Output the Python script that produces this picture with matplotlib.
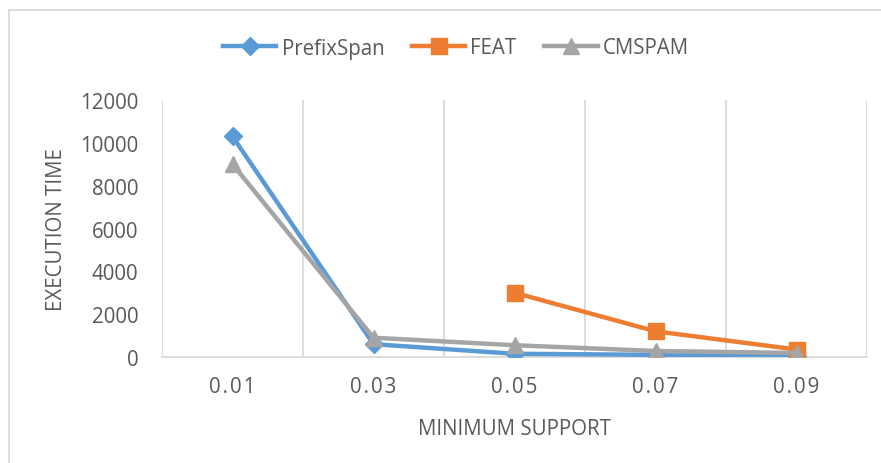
import matplotlib
matplotlib.use("Agg")
import matplotlib.pyplot as plt
import numpy as np

categories = ["0.01", "0.03", "0.05", "0.07", "0.09"]
prefixspan = [10300, 600, 150, 100, 50]
feat = [np.nan, np.nan, 3000, 1200, 350]
cmspam = [9000, 900, 550, 280, 190]
yticks = [0, 2000, 4000, 6000, 8000, 10000, 12000]

plt.rcParams['font.family'] = ['Open Sans', 'DejaVu Sans']
text_color = "#595959"
grid_color = "#D9D9D9"
fs = 14.8

W, H = 881, 464
fig = plt.figure(figsize=(W / 100, H / 100), dpi=100)
fig.patch.set_facecolor("white")
# chart area border (runs off the right and bottom edges)
fig.add_artist(plt.Rectangle((8.5 / W, -0.1), 1.2, (H - 10.5) / H + 0.1,
                             transform=fig.transFigure, fill=False,
                             edgecolor=grid_color, linewidth=1.3))

ax = fig.add_axes([162 / W, (H - 358) / H, 705 / W, 257 / H])
x = np.arange(len(categories))

lw = 3.2
ax.plot(x, prefixspan, color="#5B9BD5", lw=lw, marker="D", markersize=9.5, label="PrefixSpan", zorder=3)
ax.plot(x, feat, color="#ED7D31", lw=lw, marker="s", markersize=12, label="FEAT", zorder=3)
ax.plot(x, cmspam, color="#A5A5A5", lw=lw, marker="^", markersize=12, label="CMSPAM", zorder=4)

ax.set_xlim(-0.5, len(categories) - 0.5)
ax.set_ylim(0, 12000)
ax.set_xticks(x)
# letter-spaced category labels
ax.set_xticklabels(["\u200a".join(c) for c in categories])
ax.set_yticks(yticks)
ax.set_yticklabels([str(v) for v in yticks])
ax.set_xticks(np.arange(-0.5, len(categories)), minor=True)
ax.grid(True, axis="x", which="minor", color=grid_color, linewidth=1.3)
ax.grid(False, axis="x", which="major")
ax.tick_params(axis="both", which="both", length=0, colors=text_color, labelsize=fs)
ax.tick_params(axis="x", pad=14)
ax.tick_params(axis="y", pad=17)

for side in ["top", "right", "left"]:
    ax.spines[side].set_visible(False)
ax.spines["bottom"].set_color(grid_color)
ax.spines["bottom"].set_linewidth(1.3)

fig.text(514 / W, (H - 430) / H, "MINIMUM SUPPORT", color=text_color, fontsize=fs,
         ha="center", va="center")
fig.text(57 / W, (H - 230) / H, "EXECUTION TIME", color=text_color, fontsize=fs,
         ha="center", va="center", rotation=90)

leg = fig.legend(loc="center", bbox_to_anchor=(456 / W, (H - 49) / H), ncol=3, frameon=False,
                 fontsize=fs, handlelength=2.6, columnspacing=1.35, handletextpad=0.25,
                 borderaxespad=0, borderpad=0)
for t in leg.get_texts():
    t.set_color(text_color)

fig.savefig("out.png", dpi=100)
